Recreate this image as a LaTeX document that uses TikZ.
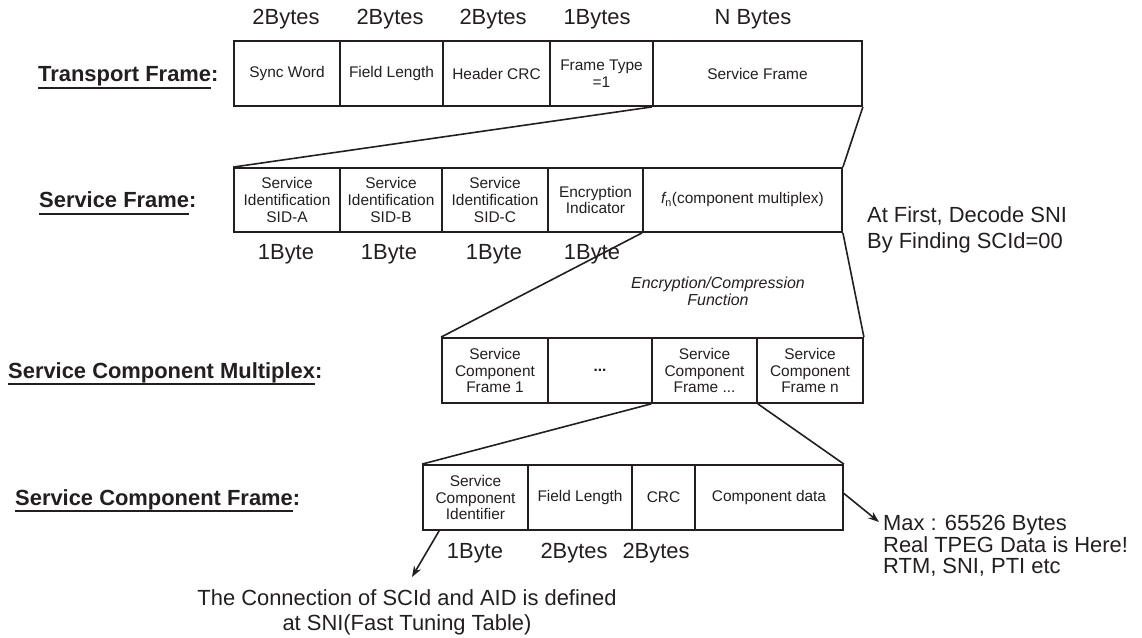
\documentclass[tikz,border=0pt]{standalone}
\usepackage{fontspec}
\setmainfont{Liberation Sans}
\usetikzlibrary{arrows.meta}
\definecolor{ink}{RGB}{35,31,32}
% underline the text with a 2pt rule a little below the baseline
\newcommand\ulrule[1]{\setbox0\hbox{#1}\rlap{\vrule height -5pt depth 7pt width \wd0}\box0}

\begin{document}
\begin{tikzpicture}[x=1bp,y=-1bp,
  cell/.style={draw=ink, line width=1.8bp, inner sep=0pt, align=center, text=ink,
               font=\fontsize{15.5}{17}\selectfont},
  big/.style={inner sep=0pt, text=ink, font=\fontsize{22}{24}\selectfont},
  lbl/.style={inner sep=0pt, text=ink, anchor=base west, font=\bfseries\fontsize{22}{24}\selectfont},
  note/.style={inner sep=0pt, text=ink, font=\itshape\fontsize{16}{17}\selectfont},
  link/.style={draw=ink, line width=1.6bp},
  ptr/.style={link, -{Stealth[length=11bp,width=8bp]}}]

\fill[white] (0,0) rectangle (1142,638);
\path[use as bounding box] (0,0) rectangle (1142,638);

% ---- Transport frame
\node[lbl] (ltf) at (38,82) {\ulrule{Transport Frame}:};
\node[cell, minimum width=106bp, minimum height=65bp] (sw) at (287,73.5) {Sync Word};
\node[cell, minimum width=103bp, minimum height=65bp] (fl) at (391.5,73.5) {Field Length};
\node[cell, minimum width=107bp, minimum height=65bp] (hc) at (496.5,73.5) {Header CRC};
\node[cell, minimum width=103bp, minimum height=65bp] (ft) at (601.5,73.5) {Frame Type\\=1};
\node[cell, minimum width=209bp, minimum height=65bp] (sf) at (757.5,73.5) {Service Frame};
\node[big, anchor=base] (b1) at (286,25) {2Bytes};
\node[big, anchor=base] (b2) at (390,25) {2Bytes};
\node[big, anchor=base] (b3) at (493,25) {2Bytes};
\node[big, anchor=base] (b4) at (597,25) {1Bytes};
\node[big, anchor=base] (b5) at (753,25) {N Bytes};

% ---- Service frame
\node[lbl] (lsf) at (39,208) {\ulrule{Service Frame}:};
\node[cell, minimum width=106bp, minimum height=64bp] (sa) at (287,200) {Service\\Identification\\SID-A};
\node[cell, minimum width=102bp, minimum height=64bp] (sb) at (391,200) {Service\\Identification\\SID-B};
\node[cell, minimum width=106bp, minimum height=64bp] (sc) at (495,200) {Service\\Identification\\SID-C};
\node[cell, minimum width=95bp, minimum height=64bp] (ei) at (595.5,200) {Encryption\\Indicator};
\node[cell, minimum width=199bp, minimum height=64bp] (cm) at (742.5,200) {{\itshape f}\textsubscript{n}(component multiplex)};
\node[big, anchor=base] (c1) at (286,260) {1Byte};
\node[big, anchor=base] (c2) at (389,260) {1Byte};
\node[big, anchor=base] (c3) at (494,260) {1Byte};
\node[big, anchor=base] (c4) at (592,260) {1Byte};
\node[big, anchor=base west] (af1) at (867,223) {At First, Decode SNI};
\node[big, anchor=base west] (af2) at (867,249) {By Finding SCId=00};
\node[note, anchor=base] (ec1) at (718,289) {Encryption/Compression};
\node[note, anchor=base] (ec2) at (718,306) {Function};

% ---- Service component multiplex
\node[lbl] (lscm) at (8,378) {\ulrule{Service Component Multiplex}:};
\node[cell, minimum width=106bp, minimum height=65bp] (m1) at (495,370.5) {Service\\Component\\Frame 1};
\node[cell, minimum width=104bp, minimum height=65bp] (md) at (600,370.5) {\bfseries ...};
\node[cell, minimum width=105bp, minimum height=65bp] (mk) at (704.5,370.5) {Service\\Component\\Frame ...};
\node[cell, minimum width=106bp, minimum height=65bp] (mn) at (810,370.5) {Service\\Component\\Frame n};

% ---- Service component frame
\node[lbl] (lscf) at (15,505) {\ulrule{Service Component Frame}:};
\node[cell, minimum width=105bp, minimum height=65bp] (sci) at (475.5,497.5) {Service\\Component\\Identifier};
\node[cell, minimum width=104bp, minimum height=65bp] (sfl) at (580,497.5) {Field Length};
\node[cell, minimum width=63bp, minimum height=65bp] (crc) at (663.5,497.5) {CRC};
\node[cell, minimum width=148bp, minimum height=65bp] (cd) at (769,497.5) {Component data};
\node[big, anchor=base] (d1) at (475,558) {1Byte};
\node[big, anchor=base] (d2) at (574,558) {2Bytes};
\node[big, anchor=base] (d3) at (656,558) {2Bytes};

\node[big, anchor=base west] (mx1) at (883,530) {Max : 65526 Bytes};
\node[big, anchor=base west] (mx2) at (883,552) {Real TPEG Data is Here!};
\node[big, anchor=base west] (mx3) at (883,573) {RTM, SNI, PTI etc};
\node[big, anchor=base] (cn1) at (407,605) {The Connection of SCId and AID is defined};
\node[big, anchor=base] (cn2) at (407,630) {at SNI(Fast Tuning Table)};

% ---- expansion lines between the levels
\draw[link] (sf.south west) -- (sa.north west);
\draw[link] (sf.south east) -- (cm.north east);
\draw[link] (cm.south west) -- (m1.north west);
\draw[link] (cm.south east) -- (mn.north east);
\draw[link] (mk.south west) -- (sci.north west);
\draw[link] (mk.south east) -- (cd.north east);

% ---- pointers to the notes
\coordinate (tipmax) at (879,522);
\coordinate (tipcn) at (412,577);
\draw[ptr] ([yshift=4bp]cd.east) -- (tipmax);
\draw[ptr] ([xshift=17bp]sci.south west) -- (tipcn);
\end{tikzpicture}
\end{document}
